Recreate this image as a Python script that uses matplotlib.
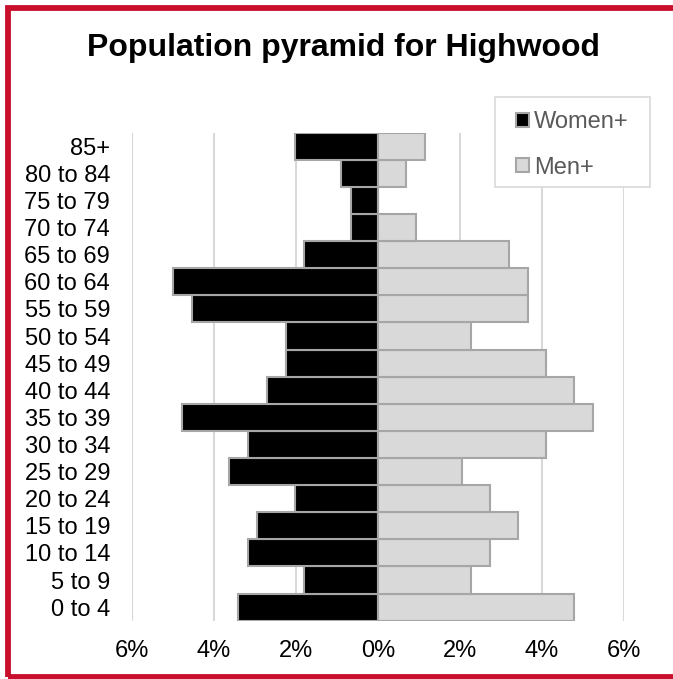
import numpy as np
import matplotlib
matplotlib.use('Agg')
import matplotlib.pyplot as plt
from matplotlib.patches import Patch, Rectangle

plt.rcParams['font.family'] = ['Liberation Sans', 'DejaVu Sans']

# age groups, bottom to top
ages = ['0 to 4', '5 to 9', '10 to 14', '15 to 19', '20 to 24', '25 to 29',
        '30 to 34', '35 to 39', '40 to 44', '45 to 49', '50 to 54', '55 to 59',
        '60 to 64', '65 to 69', '70 to 74', '75 to 79', '80 to 84', '85+']
women = [3.40, 1.80, 3.17, 2.94, 2.03, 3.63, 3.17, 4.77, 2.71, 2.24, 2.24,
         4.52, 4.99, 1.80, 0.65, 0.65, 0.89, 2.03]
men = [4.79, 2.28, 2.74, 3.42, 2.74, 2.06, 4.10, 5.24, 4.79, 4.10, 2.28,
       3.65, 3.65, 3.19, 0.93, 0.0, 0.69, 1.15]
ticks = [-6, -4, -2, 0, 2, 4, 6]

W, H = 673, 679
fig = plt.figure(figsize=(W / 100, H / 100), dpi=100)
ax = fig.add_axes([131.7 / W, 1 - 620.7 / H, (624 - 131.7) / W, (620.7 - 132.7) / H])

y = np.arange(len(ages))
edge = '#a6a6a6'
ax.barh(y, -np.array(women), height=1.0, color='black', edgecolor=edge, linewidth=1.5, zorder=2)
ax.barh(y, men, height=1.0, color='#d9d9d9', edgecolor=edge, linewidth=1.5, zorder=2)

ax.set_xlim(-6, 6)
ax.set_ylim(-0.5, len(ages) - 0.5)
ax.set_xticks(ticks)
ax.set_xticklabels(['%d%%' % abs(t) for t in ticks])
ax.set_yticks(y)
ax.set_yticklabels(ages)
ax.tick_params(axis='both', length=0, labelsize=17, colors='black')
ax.tick_params(axis='x', pad=14)
ax.tick_params(axis='y', pad=15.5)
ax.xaxis.grid(True, color='#d9d9d9', linewidth=1.5)
ax.set_axisbelow(True)
for s in ax.spines.values():
    s.set_visible(False)

fig.text(343 / W, 1 - 48 / H, 'Population pyramid for Highwood', ha='center', va='center',
         fontsize=23, fontweight='bold')

# legend frame drawn by hand, entries placed inside it
fig.patches.append(Rectangle((495 / W, 1 - 187 / H), 155 / W, 90 / H, transform=fig.transFigure,
                             facecolor='white', edgecolor='#d9d9d9', linewidth=1.2, zorder=3))
handles = [Patch(facecolor='black', edgecolor=edge, linewidth=1.5),
           Patch(facecolor='#d9d9d9', edgecolor=edge, linewidth=1.5)]
leg = fig.legend(handles, ['Women+', 'Men+'], loc='upper left',
                 bbox_to_anchor=(516 / W, 1 - 111 / H), fontsize=17,
                 handlelength=0.55, handleheight=0.55, handletextpad=0.2,
                 labelspacing=1.0, borderpad=0, borderaxespad=0, frameon=False)
leg.set_zorder(4)
for t in leg.get_texts():
    t.set_color('#595959')

# red outer border
fig.patches.append(Rectangle((8 / W, 2.5 / H), 1.0, 1 - 10.5 / H, transform=fig.transFigure,
                             fill=False, edgecolor='#c8102e', linewidth=4.2))

fig.savefig('out.png', dpi=100)
